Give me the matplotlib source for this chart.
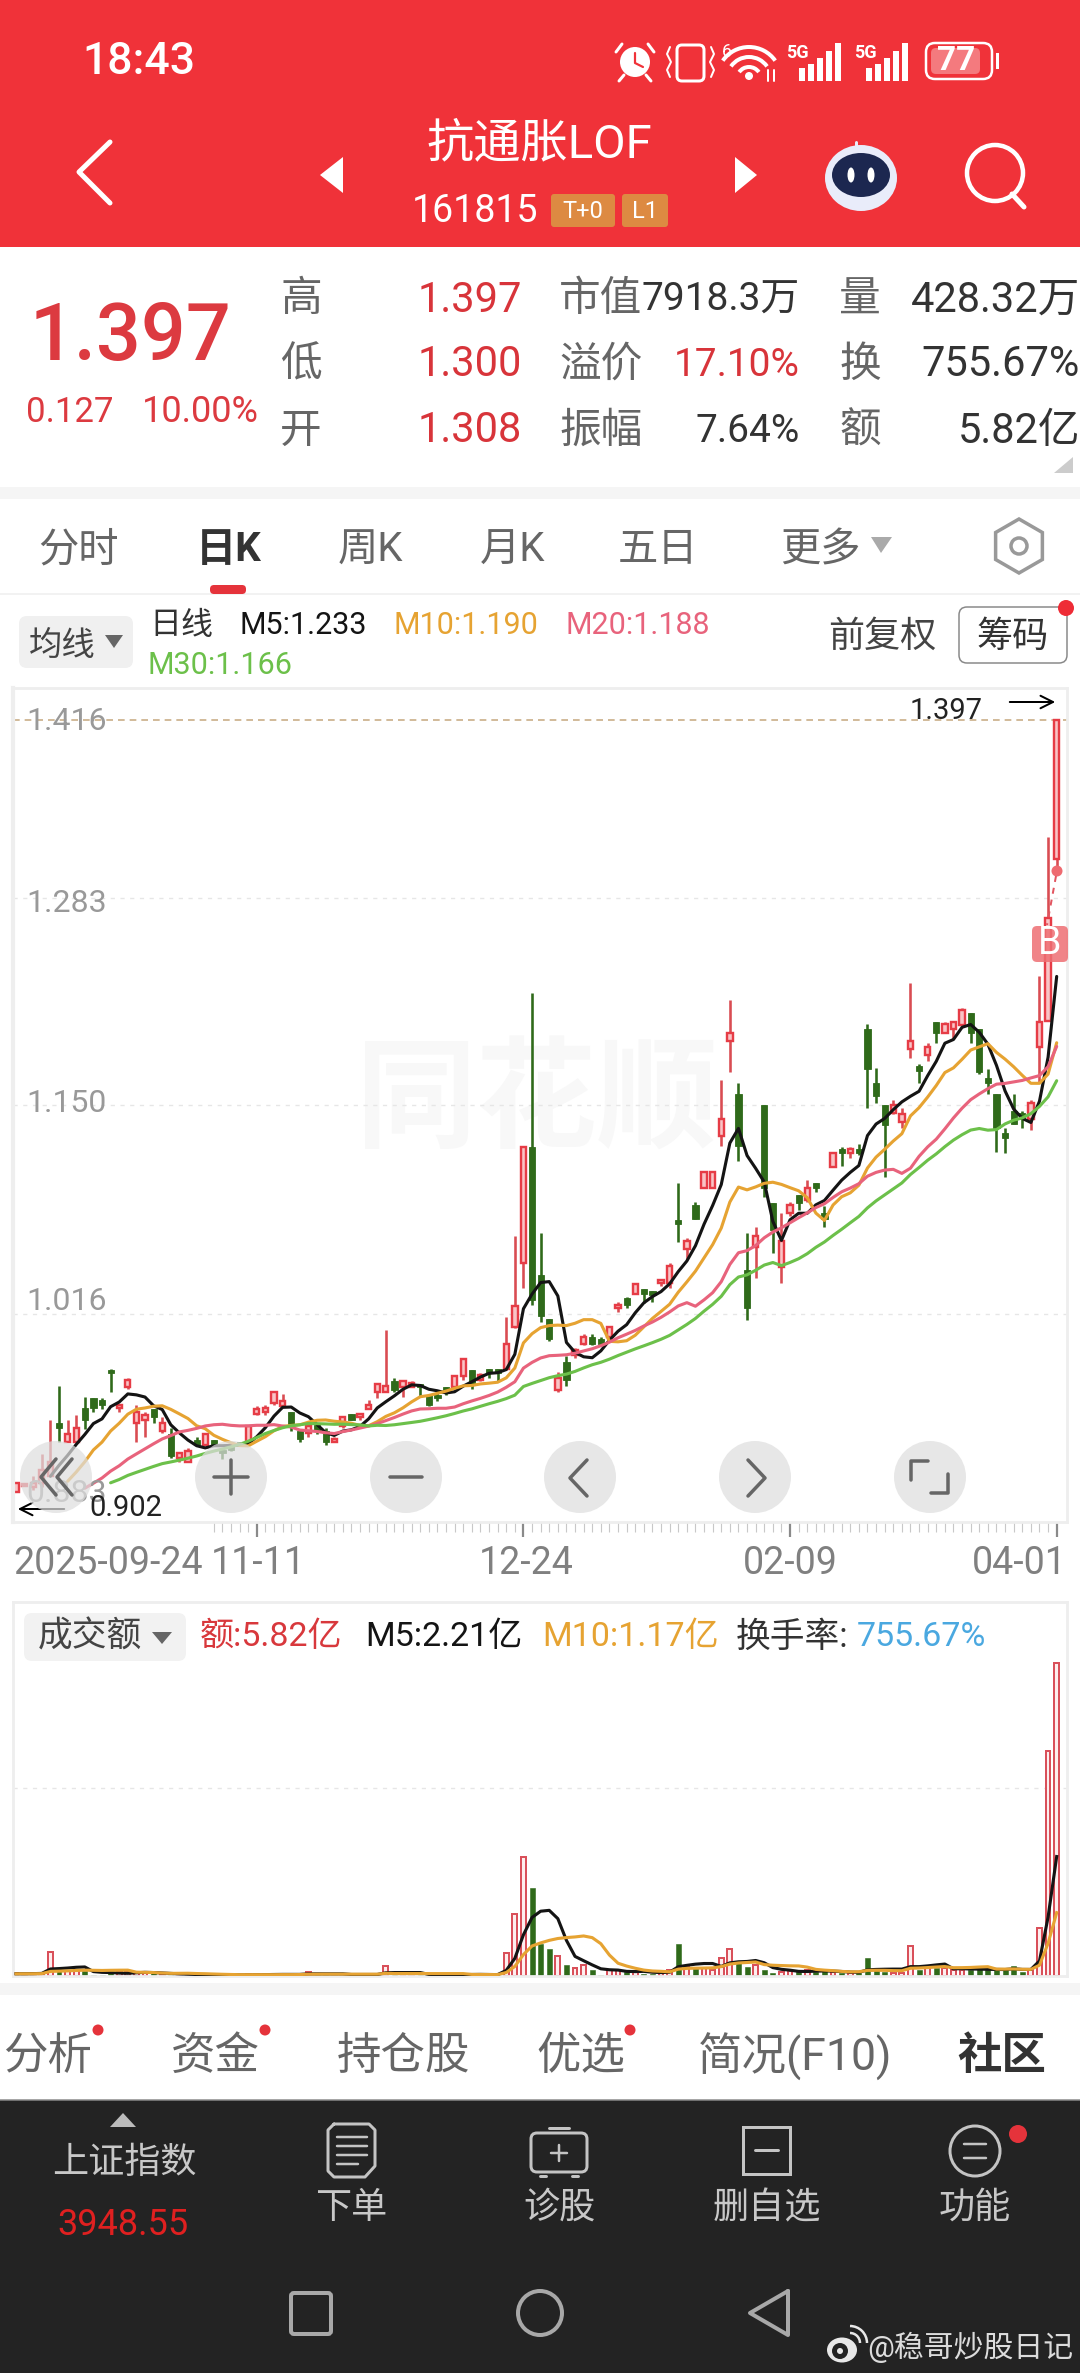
import numpy as np
import pandas as pd
import matplotlib
matplotlib.use('Agg')
import matplotlib.pyplot as plt
from matplotlib.patches import Rectangle, FancyBboxPatch, Circle, Polygon, Arc, Ellipse, RegularPolygon

plt.rcParams['font.family'] = ['Roboto', 'Noto Sans CJK SC', 'DejaVu Sans']

# ---------- data ----------
opens = [.902,.906,.905,.908,.912,.946,.934,.934,.956,.962,.961,.980,.956,.969,.946,.948,.955,.941,.939,.924,
 .921,.935,.932,.935,.929,.932,.934,.934,.952,.953,.959,.957,.953,.941,.940,.945,.941,.934,.944,.952,
 .950,.955,.966,.966,.973,.969,.969,.971,.964,.964,.969,.969,.976,.980,.974,.981,.981,.981,1.008,1.049,
 1.123,1.041,1.013,.967,.985,.990,.997,1.001,1.000,1.001,1.020,1.026,1.029,1.032,1.031,1.036,1.036,1.076,1.058,1.086,
 1.097,1.097,1.130,1.191,1.157,1.044,1.059,1.150,1.087,1.046,1.081,1.092,1.089,1.100,1.081,1.110,1.122,1.119,1.122,1.199,
 1.164,1.150,1.145,1.139,1.186,1.175,1.182,1.203,1.196,1.199,1.201,1.209,1.199,1.167,1.157,1.132,1.146,1.145,1.141,1.187,
 1.204,1.308]
highs = [.908,.907,.912,.926,.948,.970,.948,.951,.963,.962,.962,.981,.958,.975,.958,.953,.955,.950,.943,.927,
 .930,.937,.939,.935,.929,.932,.934,.944,.957,.958,.966,.965,.953,.941,.946,.945,.943,.937,.950,.952,
 .952,.961,.971,1.006,.975,.974,.973,.971,.964,.966,.969,.976,.988,.980,.978,.981,.981,1.014,1.066,1.123,
 1.222,1.068,1.013,.979,.989,.994,1.003,1.003,1.001,1.008,1.024,1.027,1.035,1.032,1.031,1.038,1.049,1.100,1.065,1.088,
 1.108,1.107,1.166,1.217,1.164,1.068,1.072,1.150,1.087,1.081,1.088,1.092,1.102,1.100,1.085,1.120,1.123,1.123,1.125,1.202,
 1.174,1.150,1.153,1.148,1.228,1.176,1.190,1.203,1.203,1.204,1.212,1.209,1.199,1.173,1.157,1.135,1.157,1.146,1.153,1.233,
 1.322,1.397]
lows = [.902,.906,.903,.905,.912,.934,.934,.934,.942,.953,.955,.966,.953,.968,.934,.937,.946,.940,.924,.921,
 .921,.932,.932,.932,.923,.928,.932,.934,.951,.951,.958,.957,.941,.934,.937,.939,.932,.934,.943,.948,
 .948,.955,.962,.966,.966,.963,.969,.963,.957,.960,.964,.969,.974,.968,.973,.975,.973,.980,1.007,1.033,
 1.022,1.011,.999,.966,.970,.988,.996,.996,.997,1.001,1.017,1.020,1.029,1.023,1.024,1.034,1.033,1.062,1.051,1.077,
 1.097,1.097,1.124,1.171,1.114,1.012,1.039,1.091,1.055,1.036,1.079,1.083,1.088,1.094,1.072,1.110,1.111,1.116,1.118,1.148,
 1.151,1.104,1.144,1.135,1.180,1.164,1.178,1.190,1.196,1.192,1.201,1.190,1.170,1.157,1.120,1.119,1.138,1.135,1.134,1.164,
 1.204,1.300]
closes = [.908,.907,.908,.916,.921,.943,.939,.943,.948,.956,.958,.978,.958,.974,.953,.951,.950,.946,.925,.927,
 .928,.932,.939,.932,.927,.929,.932,.944,.955,.956,.966,.960,.945,.936,.944,.941,.934,.936,.950,.948,
 .952,.958,.971,.970,.967,.973,.972,.969,.958,.962,.966,.976,.987,.972,.977,.978,.978,.997,1.021,1.123,
 1.025,1.015,1.000,.975,.974,.993,1.001,.997,.997,1.008,1.022,1.022,1.035,1.029,1.028,1.038,1.047,1.074,1.063,1.077,
 1.107,1.107,1.141,1.196,1.124,1.020,1.066,1.097,1.070,1.063,1.086,1.087,1.097,1.097,1.077,1.119,1.119,1.122,1.119,1.173,
 1.156,1.137,1.150,1.144,1.191,1.172,1.187,1.196,1.202,1.203,1.211,1.196,1.171,1.164,1.135,1.129,1.138,1.141,1.151,1.203,
 1.270,1.397]
prior_closes = [.900,.899,.899,.898,.898,.897,.897,.896,.896,.896,.895,.895,.895,.894,.894,.893,.893,.892,.892,.891,
 .890,.889,.888,.887,.886,.885,.884,.882,.880]
amounts = [.05,.04,.05,.06,.45,.09,.09,.12,.09,.02,.02,.07,.07,.07,.07,.06,.05,.03,.03,.03,
 .03,.02,.03,.02,.02,.02,.02,.03,.03,.03,.03,.03,.03,.03,.08,.03,.03,.03,.03,.02,
 .03,.03,.03,.19,.04,.03,.03,.03,.02,.02,.03,.03,.03,.03,.03,.02,.02,.42,1.15,2.22,
 1.63,.60,.50,.38,.20,.14,.20,.11,.02,.11,.11,.08,.09,.04,.03,.08,.11,.60,.17,.14,
 .14,.11,.33,.50,.24,.17,.20,.12,.05,.08,.09,.09,.11,.08,.10,.07,.06,.05,.06,.33,
 .11,.08,.06,.06,.56,.11,.15,.15,.14,.12,.12,.12,.14,.12,.11,.11,.19,.08,.12,.90,
 4.18,5.82]
prior_amounts = [.04,.04,.04,.04,.04,.04,.04,.04,.04]
grid_prices = [1.283, 1.150, 1.016]
price_labels = ['1.416', '1.283', '1.150', '1.016', '0.883']
date_labels = ['2025-09-24', '11-11', '12-24', '02-09', '04-01']
major_idx = [28, 59, 90, 121]
ma_windows = [5, 10, 20, 30]
ma_first_drawn = [4, 6, 8, 11]
RED, GREEN = '#e63c46', '#2f6a1a'
MA_COLORS = ['#141414', '#e6a332', '#e8637c', '#6cc04a']

W, H = 1080, 2373
fig = plt.figure(figsize=(W/100, H/100), dpi=100, facecolor='white')
PT = 0.72

def axpx(x0, y0, x1, y1, **kw):
    return fig.add_axes([x0/W, 1-y1/H, (x1-x0)/W, (y1-y0)/H], **kw)

n = len(closes)
xs = np.arange(n)
XLIM = (-0.349, 122.2)
up = np.array(closes) >= np.array(opens)

# ---------- price panel ----------
ax = axpx(13, 688, 1067, 1522, facecolor='white', zorder=1)
ax.set_xlim(*XLIM)
ax.set_ylim(0.8827, 1.4173)
for s in ax.spines.values():
    s.set_color('#eeeeee'); s.set_linewidth(2)
ax.spines['left'].set_linewidth(3)
ax.text(537/W, 1-1105/H, '同花顺', transform=fig.transFigure, fontsize=87, color='#f8f8f8',
        ha='center', va='center', weight='bold', zorder=0)
for g in grid_prices:
    ax.axhline(g, color='#e6e6e6', lw=1.0, dashes=(3, 4), zorder=1)
ax.axhline(highs[-1], color='#c9ae88', lw=1.2, dashes=(4, 3), zorder=1)
for i in range(n):
    o, h, l, c = opens[i], highs[i], lows[i], closes[i]
    t, b = max(o, c), min(o, c)
    if up[i]:
        ax.vlines(i, t, h, color='#d94c52', lw=2.6*PT, zorder=2)
        ax.vlines(i, l, b, color='#d94c52', lw=2.6*PT, zorder=2)
        ax.bar(i, t-b, bottom=b, width=0.62, facecolor='#f9c4c6', edgecolor=RED, lw=2.4*PT, zorder=2)
    else:
        ax.vlines(i, l, h, color=GREEN, lw=2.6*PT, zorder=2)
        ax.bar(i, t-b, bottom=b, width=0.72, facecolor=GREEN, edgecolor=GREEN, lw=0.6, zorder=2)
series = pd.Series(prior_closes + closes)
for w, first, col in zip(ma_windows, ma_first_drawn, MA_COLORS):
    m = series.rolling(w).mean().values[len(prior_closes):]
    ax.plot(xs[first:], m[first:], color=col, lw=3.1*PT, zorder=3, solid_capstyle='round')
ax.set_xticks(major_idx)
ax.set_xticks(np.arange(23, n), minor=True)
ax.set_xticklabels([])
ax.set_yticks([])
ax.tick_params(axis='x', which='major', length=10.8, width=1.6, color='#8a8a8a')
ax.tick_params(axis='x', which='minor', length=7, width=0.8, color='#c8c8c8')

# ---------- amount panel ----------
av = axpx(13, 1602, 1067, 1976, facecolor='white', zorder=1)
av.set_xlim(*XLIM)
av.set_ylim(0, 6.95)
for s in av.spines.values():
    s.set_color('#eeeeee'); s.set_linewidth(2)
av.set_xticks([]); av.set_yticks([])
av.axhline(3.5, color='#e6e6e6', lw=1.0, dashes=(3, 4))
for i in range(n):
    if up[i]:
        av.bar(i, amounts[i], width=0.56, facecolor='#fdeeee', edgecolor='#d9505a', lw=2.0*PT, zorder=2)
    else:
        av.bar(i, amounts[i], width=0.58, facecolor=GREEN, edgecolor=GREEN, lw=0.4, zorder=2)
aser = pd.Series(prior_amounts + amounts)
for w, col in zip([5, 10], MA_COLORS[:2]):
    m = aser.rolling(w).mean().values[len(prior_amounts):]
    av.plot(xs, m, color=col, lw=3.1*PT, zorder=3)

# ---------- phone interface, in pixels ----------
ui = fig.add_axes([0, 0, 1, 1], zorder=5, facecolor='none')
ui.set_xlim(0, W); ui.set_ylim(H, 0); ui.axis('off')
DY = 3

def T(x, y, s, size, color='#333333', ha='center', va='center', weight='normal', **kw):
    return ui.text(x, y+DY, s, fontsize=size, color=color, ha=ha, va=va, weight=weight, **kw)
def R(x0, y0, x1, y1, color, z=1, **kw):
    ui.add_patch(Rectangle((x0, y0), x1-x0, y1-y0, facecolor=color, edgecolor='none', zorder=z, **kw))
def RR(x0, y0, x1, y1, r, fc='none', ec='none', lw=0, z=2, **kw):
    ui.add_patch(FancyBboxPatch((x0+r, y0+r), x1-x0-2*r, y1-y0-2*r, boxstyle=f'round,pad={r},rounding_size={r}',
                                facecolor=fc, edgecolor=ec, lw=lw*PT, zorder=z, **kw))
def L(xx, yy, color='white', lw=3, z=3, **kw):
    ui.plot(xx, yy, color=color, lw=lw*PT, zorder=z, solid_capstyle='round', solid_joinstyle='round', **kw)
def P(pts, color, z=3, **kw):
    ui.add_patch(Polygon(pts, closed=True, facecolor=color, edgecolor='none', zorder=z, **kw))

# header
R(0, 0, W, 247, '#f03239')
T(139, 59, '18:43', 32, 'white', weight='medium')
# alarm
ui.add_patch(Circle((635, 62), 15, fc='white', ec='none', zorder=3))
L([635, 635, 643], [53, 63, 67], '#f03239', 2.2, z=4)
L([622, 616], [44, 52], 'white', 3); L([648, 654], [44, 52], 'white', 3)
L([624, 619], [75, 81], 'white', 3); L([646, 651], [75, 81], 'white', 3)
# vibrate
RR(677, 45, 704, 81, 5, ec='white', lw=3, z=3)
L([670, 667, 671, 667, 670], [47, 54, 62, 70, 77], 'white', 2)
L([711, 714, 710, 714, 711], [47, 54, 62, 70, 77], 'white', 2)
# wifi
for r in (12, 22, 32):
    ui.add_patch(Arc((749, 79), 2*r, 2*r, theta1=215, theta2=325, ec='white', lw=4*PT, zorder=3))
ui.add_patch(Circle((749, 76), 4, fc='white', ec='none', zorder=3))
T(727, 49, '6', 13, 'white')
L([768, 768], [70, 81], 'white', 2); L([774, 774], [70, 81], 'white', 2)
# signal
for x0, lab in ((799, 797), (866, 865)):
    T(lab, 50, '5G', 13, 'white', weight='bold')
    for k, top in enumerate((68, 64, 58, 51, 43)):
        R(x0+k*9, top, x0+k*9+5.5, 81, 'white', z=3)
# battery
RR(926, 43, 992, 79, 9, ec='white', lw=2.5, z=3)
RR(931, 48, 980, 74, 5, fc='#f47a7e', z=3)
T(956, 58, '77', 24, 'white', weight='bold', zorder=4)
R(996, 53, 999, 69, 'white', z=3)
# title row
L([110, 79, 110], [142, 172, 203], 'white', 5)
P([(320, 175), (343, 157), (343, 193)], 'white')
P([(757, 175), (735, 157), (735, 193)], 'white')
T(539, 141, '抗通胀LOF', 34, 'white')
T(475, 209, '161815', 27, 'white')
RR(551, 194, 615, 227, 3, fc='#dd8a42', z=2)
RR(622, 194, 668, 227, 3, fc='#dd8a42', z=2)
T(583, 208, 'T+0', 17, 'white', zorder=4); T(645, 208, 'L1', 17, 'white', zorder=4)
# robot
ui.add_patch(Ellipse((861, 178), 72, 66, fc='#e9ecfa', ec='none', zorder=3))
ui.add_patch(Ellipse((861, 175), 58, 44, fc='#1c2750', ec='none', zorder=4))
ui.add_patch(Ellipse((851, 175), 7, 15, fc='white', ec='none', zorder=5))
ui.add_patch(Ellipse((871, 175), 7, 15, fc='white', ec='none', zorder=5))
L([856, 856], [148, 142], '#e9ecfa', 3)
# search
ui.add_patch(Circle((995, 173), 28, fc='none', ec='white', lw=4.5*PT, zorder=3))
L([1012, 1024], [194, 207], 'white', 5)

# quote block
RED_T = '#dc3a40'
T(130, 335, '1.397', 57, RED_T, weight='medium')
T(70, 409, '0.127', 25, RED_T)
T(200, 409, '10.00%', 26, RED_T)
rows_y = [297, 362, 428]
for y, lab, val in zip(rows_y, ['高', '低', '开'], ['1.397', '1.300', '1.308']):
    T(301, y, lab, 30, '#666666')
    T(522, y, val, 30, '#d8343a', ha='right')
for y, lab, val, col in zip(rows_y, ['市值', '溢价', '振幅'], ['7918.3万', '17.10%', '7.64%'], ['#333333', '#d8343a', '#333333']):
    T(559, y, lab, 30, '#666666', ha='left')
    T(800, y, val, 28, col, ha='right')
for y, lab, val in zip(rows_y, ['量', '换', '额'], ['428.32万', '755.67%', '5.82亿']):
    T(860, y, lab, 30, '#666666')
    T(1080, y, val, 30, '#333333', ha='right')
P([(1073, 457), (1073, 473), (1054, 473)], '#cccccc')
R(0, 487, W, 499, '#f5f5f5')

# tabs
for x, s in zip((78, 370, 513, 658, 820), ('分时', '周K', '月K', '五日', '更多')):
    T(x, 547, s, 29, '#666666')
T(229, 547, '日K', 29, '#333333', weight='bold')
P([(871, 537), (892, 537), (881, 553)], '#aaaaaa')
ui.add_patch(RegularPolygon((1019, 546), 6, radius=27, fc='none', ec='#999999', lw=3.5*PT, zorder=3))
ui.add_patch(Circle((1019, 546), 8, fc='none', ec='#999999', lw=3.5*PT, zorder=3))
RR(210, 585, 246, 594, 4, fc='#e5333b')
L([0, W], [594, 594], '#eeeeee', 1.5, z=1)

# legend of price panel
RR(19, 616, 133, 668, 8, fc='#f0f0f0')
T(62, 643, '均线', 24, '#444444')
P([(105, 635), (123, 635), (114, 648)], '#666666')
T(149, 622, '日线', 23, '#333333', ha='left')
for x, y, s, c in zip((240, 393, 565, 148), (622, 622, 622, 663),
                      ('M5:1.233', 'M10:1.190', 'M20:1.188', 'M30:1.166'), MA_COLORS):
    T(x, y, s, 22, c, ha='left')
T(882, 634, '前复权', 26, '#444444')
RR(959, 607, 1067, 663, 8, fc='white', ec='#888888', lw=1.5)
T(1013, 634, '筹码', 26, '#333333')
ui.add_patch(Circle((1066, 608), 8, fc='#ee2c36', ec='none', zorder=4))

# price labels
for y, s in zip((718, 901, 1101, 1299, 1491), price_labels):
    T(26, y, s, 23, '#999999', ha='left')
T(946, 708, '1.397', 21, '#222222')
ui.annotate('', xy=(1058, 702), xytext=(1007, 702), zorder=4,
            arrowprops=dict(arrowstyle='->,head_width=0.45,head_length=0.9', color='black', lw=2*PT))
T(126, 1505, '0.902', 21, '#222222', zorder=6)
ui.annotate('', xy=(15, 1509), xytext=(67, 1509), zorder=4,
            arrowprops=dict(arrowstyle='->,head_width=0.45,head_length=0.9', color='black', lw=2*PT))
# marker and badge at the right
ui.add_patch(Circle((1057, 871), 5.5, fc='#ee6a70', ec='none', zorder=3))
ui.plot([1056, 1047], [876, 925], color='#e25560', lw=2*PT, dashes=(3, 3), zorder=3)
RR(1032, 926, 1068, 962, 5, fc='#ee6f73', z=3, alpha=0.85)
T(1050, 941, 'B', 27, 'white', zorder=4)

# round buttons
for cx in (56, 231, 406, 580, 755, 930):
    ui.add_patch(Circle((cx, 1477), 36, fc='#dedede', ec='none', alpha=0.72, zorder=4))
GL = dict(color='#666666', lw=3.5, z=5)
L([56, 41, 56], [1459, 1477, 1495], **GL); L([72, 57, 72], [1459, 1477, 1495], **GL)
L([214, 248], [1477, 1477], **GL); L([231, 231], [1460, 1494], **GL)
L([390, 422], [1477, 1477], **GL)
L([587, 570, 587], [1460, 1478, 1496], **GL)
L([748, 765, 748], [1460, 1478, 1496], **GL)
L([911, 911, 928], [1480, 1461, 1461], **GL); L([948, 948, 931], [1474, 1493, 1493], **GL)

# date axis
for x, s in zip((108, 258, 526, 790, 1019), date_labels):
    T(x, 1560, s, 27, '#808080')

# amount legend
RR(24, 1613, 186, 1661, 8, fc='#f2f2f2')
T(90, 1634, '成交额', 25, '#444444')
P([(152, 1632), (172, 1632), (162, 1644)], '#666666')
T(200, 1634, '额:5.82亿', 24.5, '#d8383c', ha='left')
T(365, 1634, 'M5:2.21亿', 24.5, '#141414', ha='left')
T(542, 1634, 'M10:1.17亿', 24.5, '#e6a332', ha='left')
T(736, 1634, '换手率:', 25, '#333333', ha='left')
T(857, 1634, '755.67%', 24.5, '#4aa8e0', ha='left')
R(0, 1983, W, 1995, '#f5f5f5')

# lower tabs
for x, s in zip((48, 215, 403, 581, 795), ('分析', '资金', '持仓股', '优选', '简况(F10)')):
    T(x, 2054, s, 32, '#666666')
T(1002, 2054, '社区', 32, '#333333', weight='bold')
for x in (98, 265, 630):
    ui.add_patch(Circle((x, 2030), 5.5, fc='#e5333b', ec='none', zorder=4))

# dark bar
R(0, 2100, W, H, '#232323', z=2)
L([0, W], [2100, 2100], '#8a8a8a', 1.5, z=3)
P([(110, 2127), (136, 2127), (123, 2113)], '#bbbbbb')
T(124, 2160, '上证指数', 26, '#c8c8c8', zorder=4)
T(123, 2222, '3948.55', 26, '#e02020', zorder=4)
IC = '#c4c4c4'
# order icon
L([334, 369, 375, 375, 365, 334, 328, 328, 334], [2124, 2124, 2130, 2166, 2177, 2177, 2171, 2130, 2124], IC, 3)
for y in (2137, 2146, 2155):
    L([337, 367], [y, y], IC, 2.5)
L([337, 358], [2164, 2164], IC, 2.5)
T(351, 2205, '下单', 26, '#c8c8c8', zorder=4)
# diagnose icon
RR(531, 2133, 587, 2172, 6, ec=IC, lw=3, z=3)
L([549, 569], [2128, 2128], IC, 3)
L([559, 559], [2145, 2161], IC, 2.5); L([551, 567], [2153, 2153], IC, 2.5)
L([540, 546], [2176, 2176], IC, 3); L([572, 578], [2176, 2176], IC, 3)
T(559, 2205, '诊股', 26, '#c8c8c8', zorder=4)
# remove icon
ui.add_patch(Rectangle((743, 2127), 47, 47, fc='none', ec=IC, lw=3*PT, zorder=3))
L([755, 778], [2150, 2150], IC, 3)
T(767, 2205, '删自选', 26, '#c8c8c8', zorder=4)
# function icon
ui.add_patch(Circle((975, 2151), 25, fc='none', ec=IC, lw=3*PT, zorder=3))
L([964, 986], [2144, 2144], IC, 2.5); L([964, 986], [2158, 2158], IC, 2.5)
ui.add_patch(Circle((1018, 2134), 9, fc='#e5333b', ec='none', zorder=4))
T(975, 2205, '功能', 26, '#c8c8c8', zorder=4)
# nav buttons
NC = '#a8a8a8'
RR(291, 2293, 331, 2334, 3, ec=NC, lw=4, z=3)
ui.add_patch(Circle((540, 2313), 22, fc='none', ec=NC, lw=4*PT, zorder=3))
L([788, 750, 788, 788], [2291, 2313, 2335, 2291], NC, 4)
# source mark
ui.add_patch(Ellipse((842, 2350), 30, 25, fc='#e8e8e8', ec='none', zorder=3))
ui.add_patch(Circle((840, 2351), 8, fc='#232323', ec='none', zorder=4))
ui.add_patch(Circle((840, 2351), 3, fc='#e8e8e8', ec='none', zorder=5))
ui.add_patch(Arc((850, 2343), 20, 20, theta1=270, theta2=360, ec='#e8e8e8', lw=2.5*PT, zorder=3))
ui.add_patch(Arc((850, 2343), 34, 34, theta1=270, theta2=360, ec='#e8e8e8', lw=2.5*PT, zorder=3))
T(970, 2344, '@稳哥炒股日记', 21.5, '#dcdcdc', zorder=4)

fig.savefig('out.png', dpi=100, facecolor='white')
